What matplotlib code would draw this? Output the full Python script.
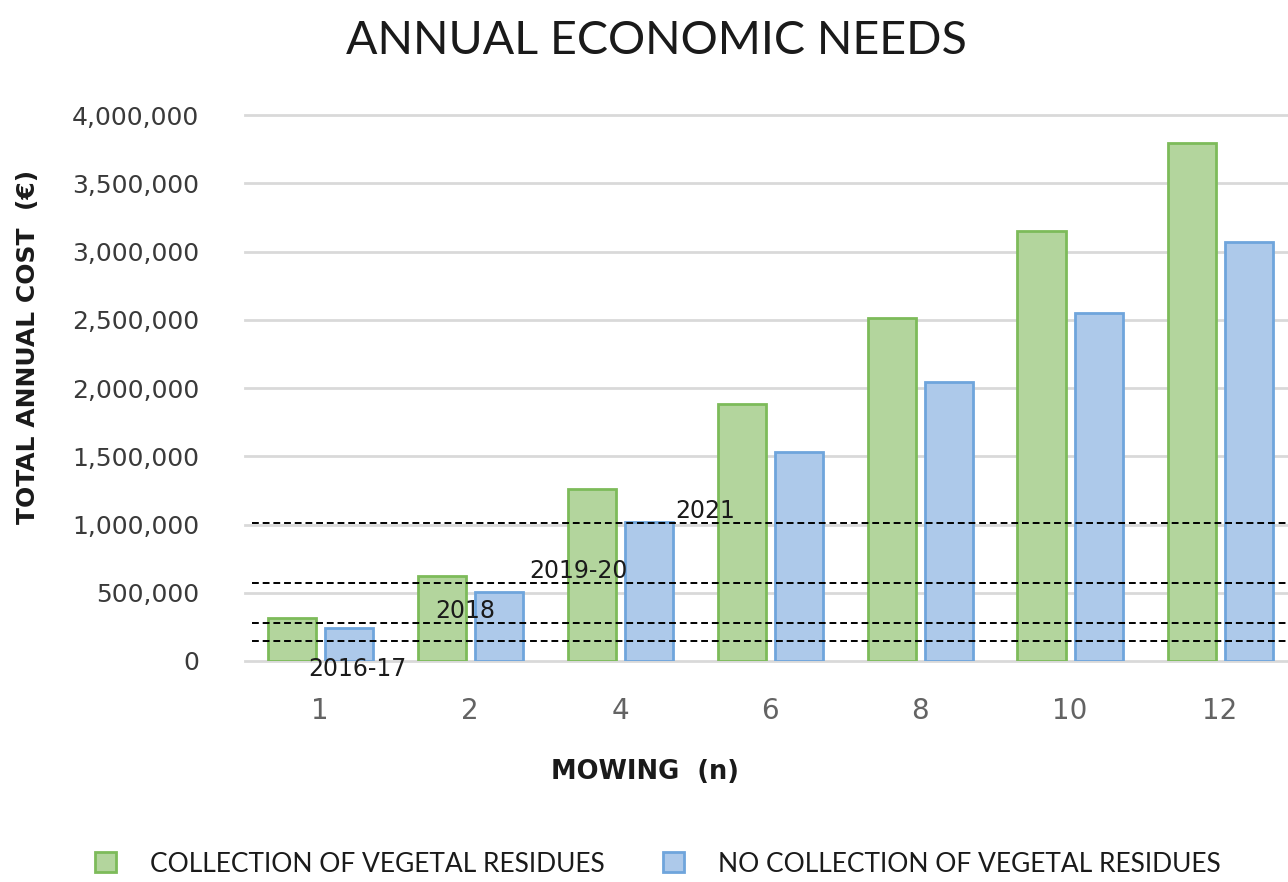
import matplotlib
matplotlib.use("Agg")
import matplotlib.pyplot as plt
from matplotlib.patches import Patch
from matplotlib.ticker import FuncFormatter
import numpy as np

categories = ["1", "2", "4", "6", "8", "10", "12"]
collection = [315000, 625000, 1260000, 1885000, 2515000, 3150000, 3795000]
no_collection = [245000, 505000, 1020000, 1530000, 2045000, 2550000, 3070000]

budget_values = [1010000, 575000, 280000, 150000]
budget_labels = ["2021", "2019-20", "2018", "2016-17"]

title = "ANNUAL ECONOMIC NEEDS"
xlabel = "MOWING  (n)"
ylabel = "TOTAL ANNUAL COST  (€)"
legend_labels = ["COLLECTION OF VEGETAL RESIDUES", "NO COLLECTION OF VEGETAL RESIDUES"]

green_fill = "#b3d59d"
green_edge = "#7dbb5a"
blue_fill = "#adc9ea"
blue_edge = "#6fa5dc"

fig = plt.figure(figsize=(12.88, 8.82), dpi=100)
ax = fig.add_axes([245/1288, 1-661/882, 1050/1288, 546/882])

x = np.arange(len(categories))
w = 0.32
off = 0.19
ax.bar(x - off, collection, width=w, color=green_fill, edgecolor=green_edge, linewidth=2, zorder=3)
ax.bar(x + off, no_collection, width=w, color=blue_fill, edgecolor=blue_edge, linewidth=2, zorder=3)

ax.set_xlim(-0.5, len(categories) - 0.5)
ax.set_ylim(0, 4000000)
ax.set_yticks(np.arange(0, 4000001, 500000))
ax.yaxis.set_major_formatter(FuncFormatter(lambda v, p: f"{int(v):,}"))
ax.set_xticks(x)
ax.set_xticklabels(categories)

ax.grid(axis="y", color="#d9d9d9", linewidth=2, zorder=0)
for ln in ax.get_ygridlines():
    ln.set_clip_on(False)
for s in ax.spines.values():
    s.set_visible(False)
ax.tick_params(axis="both", length=0)
ax.tick_params(axis="y", pad=33, labelsize=18, labelcolor="#3a3a3a")
ax.tick_params(axis="x", pad=26, labelsize=20, labelcolor="#636363")
for t in ax.get_yticklabels() + ax.get_xticklabels():
    t.set_family("DejaVu Sans")

# budget lines
label_pos = [(2.57, "bottom", 0), (1.72, "bottom", 0), (0.97, "bottom", 0), (0.25, "top", 30000)]
for val, lab, (lx, va, yy) in zip(budget_values, budget_labels, label_pos):
    ax.axhline(val, xmin=0.007, xmax=1, color="black", linestyle=(0, (3.5, 2)), linewidth=1.4, zorder=4)
    ty = val if va == "bottom" else yy
    ax.text(lx, ty, lab, ha="center", va=va, fontsize=17, color="#1a1a1a", zorder=5,
            family="DejaVu Sans")

ax.set_xlabel(xlabel, fontsize=18.5, fontweight="bold", color="#1a1a1a")
ax.xaxis.set_label_coords((645-245)/1050, -(785-661)/546)
ax.xaxis.label.set_va("bottom")
ax.set_ylabel(ylabel, fontsize=18, fontweight="bold", color="#1a1a1a")
ax.yaxis.set_label_coords((40-245)/1050, (661-347)/546)

fig.text(656/1288, 1-41/882, title, ha="center", va="center", fontsize=33.5, family="Lato", color="#1a1a1a")

handles = [Patch(facecolor=green_fill, edgecolor=green_edge, linewidth=2),
           Patch(facecolor=blue_fill, edgecolor=blue_edge, linewidth=2)]
leg = fig.legend(handles, legend_labels, loc="center", bbox_to_anchor=(658/1288, 1-864/882), ncol=2,
                 frameon=False, prop={"family": "Lato", "size": 19}, handlelength=0.8, handleheight=0.8,
                 handletextpad=1.3, columnspacing=2.2, labelcolor="#1a1a1a")

fig.savefig("out.png", dpi=100)
